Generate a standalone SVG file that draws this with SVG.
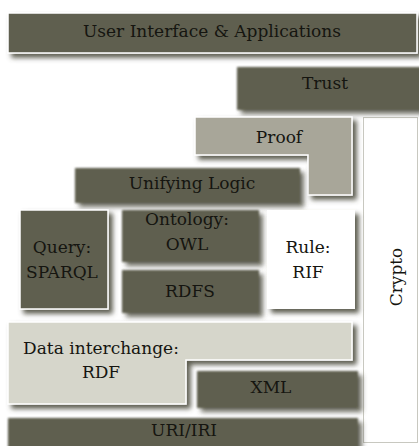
<svg xmlns="http://www.w3.org/2000/svg" width="419" height="446" viewBox="0 0 419 446">
  <style>
    .dark { fill: #5f5f50; }
    .mid { fill: #a8a699; }
    .light { fill: #d6d6cb; }
    .white { fill: #ffffff; }
    .edge { stroke: #ffffff; stroke-width: 1.5; }
    .lbl { font-size: 17px; fill: #151510; text-anchor: middle; }
  </style>
  <defs>
    <!-- drop shadow cast down and to the right -->
    <filter id="shade" x="-10%" y="-20%" width="125%" height="150%">
      <feGaussianBlur in="SourceAlpha" stdDeviation="2.5" result="b"/>
      <feOffset in="b" dx="4" dy="4" result="o"/>
      <feFlood flood-color="#4b4b3d" flood-opacity="0.9"/>
      <feComposite in2="o" operator="in" result="s"/>
      <feMerge>
        <feMergeNode in="s"/>
        <feMergeNode in="SourceGraphic"/>
      </feMerge>
    </filter>
    <!-- drop shadow plus feathered edges for the dark blocks -->
    <filter id="soft" x="-10%" y="-20%" width="125%" height="150%">
      <feGaussianBlur in="SourceAlpha" stdDeviation="2.5" result="b"/>
      <feOffset in="b" dx="4" dy="4" result="o"/>
      <feFlood flood-color="#4b4b3d" flood-opacity="0.8"/>
      <feComposite in2="o" operator="in" result="s"/>
      <feGaussianBlur in="SourceGraphic" stdDeviation="1.3" result="g"/>
      <feMerge>
        <feMergeNode in="s"/>
        <feMergeNode in="g"/>
      </feMerge>
    </filter>
  </defs>

  <rect width="419" height="446" fill="#ffffff"/>

  <g font-family="DejaVu Serif, serif">
  <g id="crypto">
    <rect x="363.5" y="117.5" width="54" height="325" class="white" stroke="#c8c8c0" stroke-width="1"/>
    <text class="lbl" transform="translate(402,277) rotate(-90)">Crypto</text>
  </g>

  <g id="ui">
    <rect x="8" y="13" width="409" height="40" class="dark edge" filter="url(#shade)"/>
    <text class="lbl" x="212" y="37">User Interface &amp; Applications</text>
  </g>

  <g id="trust">
    <rect x="237" y="67" width="185" height="43" class="dark" filter="url(#soft)"/>
    <text class="lbl" x="325" y="89">Trust</text>
  </g>

  <g id="proof">
    <path d="M195,117 H352 V195 H308 V155 H195 Z" class="mid edge" filter="url(#shade)"/>
    <text class="lbl" x="279" y="143">Proof</text>
  </g>

  <g id="logic">
    <rect x="75" y="168" width="225" height="35" class="dark" filter="url(#soft)"/>
    <text class="lbl" x="192" y="189">Unifying Logic</text>
  </g>

  <g id="query">
    <rect x="20" y="210" width="88" height="99" class="dark edge" filter="url(#shade)"/>
    <text class="lbl" x="62" y="253">Query:</text>
    <text class="lbl" x="62" y="278">SPARQL</text>
  </g>

  <g id="ontology">
    <rect x="122" y="210" width="137" height="52" class="dark" filter="url(#soft)"/>
    <text class="lbl" x="187" y="225">Ontology:</text>
    <text class="lbl" x="187" y="250">OWL</text>
  </g>

  <g id="rdfs">
    <rect x="122" y="270" width="137" height="43" class="dark" filter="url(#soft)"/>
    <text class="lbl" x="190" y="297">RDFS</text>
  </g>

  <g id="rule">
    <rect x="267" y="210" width="88" height="99" class="white" filter="url(#shade)"/>
    <text class="lbl" x="308" y="253">Rule:</text>
    <text class="lbl" x="308" y="278">RIF</text>
  </g>

  <g id="rdf">
    <path d="M8,322 H352 V360 H186 V404 H8 Z" class="light edge" filter="url(#shade)"/>
    <text class="lbl" x="101" y="354">Data interchange:</text>
    <text class="lbl" x="101" y="378">RDF</text>
  </g>

  <g id="xml">
    <rect x="197" y="371" width="161" height="37" class="dark" filter="url(#soft)"/>
    <text class="lbl" x="271" y="393">XML</text>
  </g>

  <g id="uri">
    <rect x="8" y="418" width="350" height="32" class="dark" filter="url(#soft)"/>
    <text class="lbl" x="184" y="436">URI/IRI</text>
  </g>
  </g>
</svg>
